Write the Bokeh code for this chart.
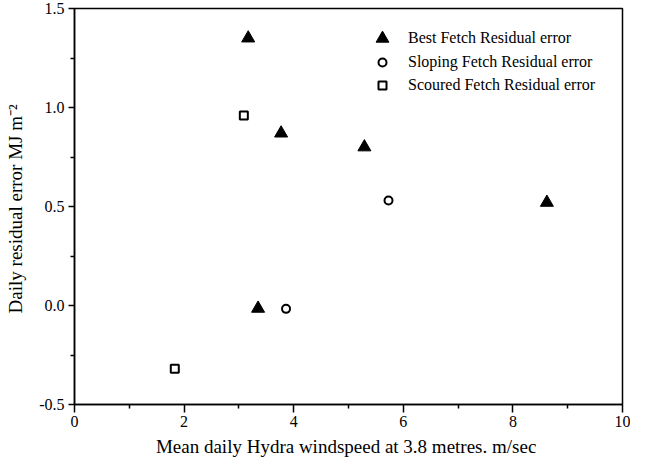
from bokeh.plotting import figure
from bokeh.models import Range1d, FixedTicker, NumeralTickFormatter, Legend, LegendItem
from bokeh.embed import file_html
from bokeh.resources import INLINE

# Data
best_x = [3.17, 3.77, 5.29, 8.62, 3.35]
best_y = [1.35, 0.87, 0.80, 0.52, -0.015]
sloping_x = [5.73, 3.86]
sloping_y = [0.53, -0.017]
scoured_x = [3.09, 1.83]
scoured_y = [0.96, -0.32]

series_labels = ["Best Fetch Residual error",
                 "Sloping Fetch Residual error",
                 "Scoured Fetch Residual error"]

x_ticks = [0, 2, 4, 6, 8, 10]
x_minor = [1, 3, 5, 7, 9]
y_ticks = [-0.5, 0.0, 0.5, 1.0, 1.5]
y_minor = [-0.25, 0.25, 0.75, 1.25]

FONT = "Liberation Serif"

p = figure(width=630, height=459, output_backend="svg", toolbar_location=None,
           x_range=Range1d(0, 10), y_range=Range1d(-0.5, 1.5),
           min_border_left=74, min_border_right=8, min_border_top=8, min_border_bottom=55)

p.xgrid.visible = False
p.ygrid.visible = False
p.outline_line_color = "black"
p.outline_line_width = 1.5
p.background_fill_color = "white"
p.border_fill_color = "white"

r_best = p.scatter(best_x, best_y, marker="triangle", size=13, fill_color="black", line_color="black")
r_slop = p.scatter(sloping_x, sloping_y, marker="circle", size=8, fill_color="white", line_color="black",
                   line_width=2)
r_scour = p.scatter(scoured_x, scoured_y, marker="square", size=8, fill_color="white", line_color="black",
                    line_width=2)

# axes
p.xaxis.ticker = FixedTicker(ticks=x_ticks, minor_ticks=x_minor)
p.yaxis.ticker = FixedTicker(ticks=y_ticks, minor_ticks=y_minor)
p.yaxis.formatter = NumeralTickFormatter(format="0.0")

for ax in (p.xaxis[0], p.yaxis[0]):
    ax.axis_line_color = "black"
    ax.axis_line_width = 1.5
    ax.major_tick_line_color = "black"
    ax.minor_tick_line_color = "black"
    ax.major_tick_line_width = 1.5
    ax.minor_tick_line_width = 1.5
    ax.major_tick_in = 0
    ax.minor_tick_in = 0
    ax.major_label_text_font = FONT
    ax.major_label_text_font_size = "16px"
    ax.major_label_text_color = "black"
    ax.axis_label_text_font = FONT
    ax.axis_label_text_font_size = "19px"
    ax.axis_label_text_font_style = "normal"
    ax.axis_label_text_color = "black"

p.xaxis.major_tick_out = 8
p.xaxis.minor_tick_out = 4
p.yaxis.major_tick_out = 6
p.yaxis.minor_tick_out = 4
p.xaxis.major_label_standoff = 3
p.yaxis.major_label_standoff = 4
p.xaxis.axis_label = "Mean daily Hydra windspeed at 3.8 metres.  m/sec"
p.yaxis.axis_label = "Daily residual error  MJ m\u207b\u00b2"
p.xaxis.axis_label_standoff = 6
p.yaxis.axis_label_standoff = 10

# one legend per entry so each marker keeps its own size in the key
def make_legend(label, renderer, box, loc, standoff):
    lg = Legend(items=[LegendItem(label=label, renderers=[renderer])], location=loc)
    lg.border_line_color = None
    lg.background_fill_alpha = 0
    lg.padding = 0
    lg.margin = 0
    lg.glyph_width = box
    lg.glyph_height = box
    lg.label_height = 20
    lg.label_standoff = standoff
    lg.label_text_font = FONT
    lg.label_text_font_size = "16px"
    lg.label_text_color = "black"
    p.add_layout(lg)

make_legend(series_labels[0], r_best, 32, (292, 350), 10)
make_legend(series_labels[1], r_slop, 20, (298, 332), 16)
make_legend(series_labels[2], r_scour, 20, (298, 309), 16)

open("out.html", "w").write(file_html(p, INLINE))
